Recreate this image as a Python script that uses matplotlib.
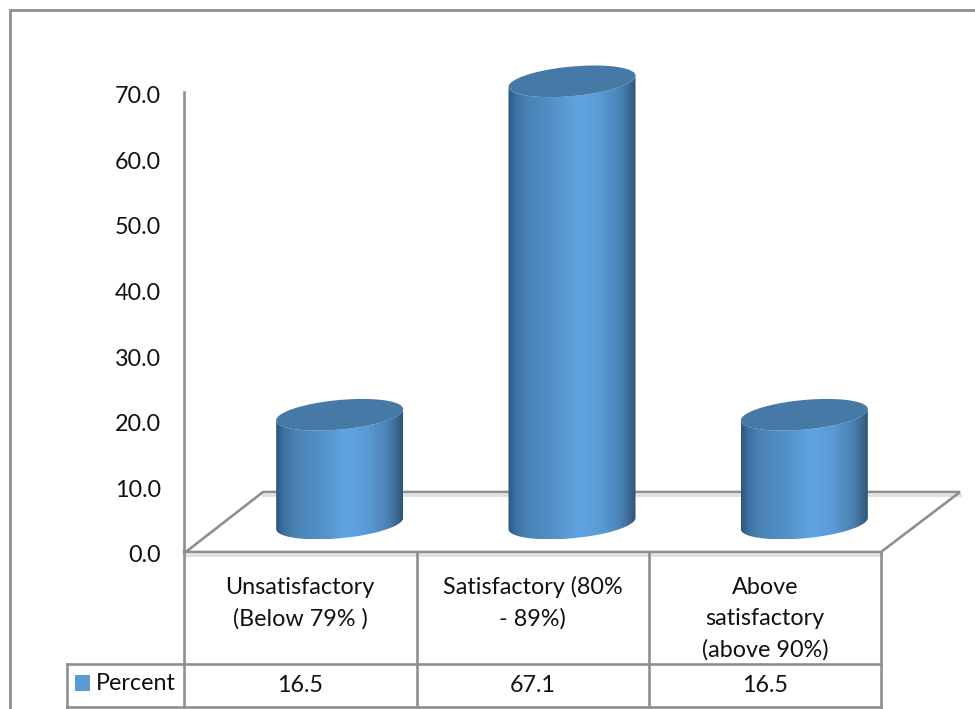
import numpy as np
import matplotlib
matplotlib.use("Agg")
import matplotlib.pyplot as plt
from matplotlib.colors import LinearSegmentedColormap
from matplotlib.lines import Line2D
from matplotlib.patches import PathPatch, Polygon, Rectangle
from matplotlib.path import Path
from matplotlib.transforms import Affine2D, ScaledTranslation

# Chart data
categories = ["Unsatisfactory\n(Below 79% )", "Satisfactory (80%\n- 89%)", "Above\nsatisfactory\n(above 90%)"]
percent = [16.5, 67.1, 16.5]
series_name = "Percent"
y_ticks = [0, 10, 20, 30, 40, 50, 60, 70]

W, H = 975, 709
GRAY = "#8f8f8f"
SHADE = "#dedede"
TEXT = "#111111"
plt.rcParams["font.family"] = ["Lato", "DejaVu Sans"]
FONT = 16.8

fig = plt.figure(figsize=(W / 100, H / 100), dpi=100, facecolor="white")

# Plot box runs from the 0.0 tick to the 70.0 tick
left, right, top, bottom = 184, 881, 92, 551
ax = fig.add_axes([left / W, (H - bottom) / H, (right - left) / W, (bottom - top) / H])
ax.set_zorder(5)
ax.patch.set_alpha(0)
ax.set_xlim(0, len(categories))
ax.set_ylim(0, 70)
px_x = len(categories) / (right - left)
px_y = 70 / (bottom - top)

for name in ("top", "right", "bottom"):
    ax.spines[name].set_visible(False)
ax.spines["left"].set_color(GRAY)
ax.spines["left"].set_linewidth(1.9)
ax.set_xticks([])
ax.set_yticks(y_ticks)
ax.set_yticklabels([f"{t:.1f}" for t in y_ticks], fontsize=FONT, color=TEXT)
ax.tick_params(axis="y", length=0, pad=16.5)
# Nudge the labels down so the digits sit level with their tick positions
nudge = ScaledTranslation(0, -2 / 72, fig.dpi_scale_trans)
for label in ax.get_yticklabels():
    label.set_transform(label.get_transform() + nudge)

# Everything around the plot is placed in pixels from the top-left corner
page = Affine2D().scale(1, -1).translate(0, H)


def rule(xs, ys, color=GRAY, lw=1.9, z=1):
    fig.add_artist(Line2D(xs, ys, transform=page, color=color, lw=lw, zorder=z,
                          solid_capstyle="projecting", solid_joinstyle="miter"))


# Outer chart frame
rule([10, 10, W], [H, 10, 10], lw=2.0)

# Floor of the 3D plot
rule([263, 960], [495, 495], color=SHADE, lw=2.0)
rule([184, 881], [554.5, 554.5], color=SHADE, lw=2.0)
rule([187, 263, 960, 881, 184], [551, 492, 492, 552, 552])

# Data table grid
for x in (184, 416.5, 648.5, 881):
    rule([x, x], [552, 707])
rule([67, 881], [664, 664])
rule([67, 881], [707, 707])
rule([67, 67], [664, 707])

# Category and value cells
centers = [300, 532.5, 765]
for x, label, value in zip(centers, categories, percent):
    for k, line in enumerate(label.split("\n")):
        fig.text(x, 587 + 31.5 * k, line, transform=page, ha="center", va="center",
                 fontsize=FONT, color=TEXT)
    fig.text(x, 685, f"{value:.1f}", transform=page, ha="center", va="center",
             fontsize=FONT, color=TEXT)

# Legend cell
fig.add_artist(Rectangle((75, 675), 15, 16, transform=page, facecolor="#5b9bd5", edgecolor="none"))
fig.text(96, 684, series_name, transform=page, ha="left", va="center", fontsize=FONT, color=TEXT)

# Cylinders stand on the floor, shifted back from the front edge
shade = LinearSegmentedColormap.from_list("cyl", [
    (0.00, "#2c567e"), (0.05, "#3a6e9e"), (0.14, "#4a82b4"), (0.35, "#5390c8"),
    (0.56, "#60a5e3"), (0.72, "#5a9bd6"), (0.88, "#4b82b4"), (0.96, "#3a678f"),
    (1.00, "#2e5473"),
])
radius = 63.5 * px_x
shift = 39.5 * px_x
base = 27.5 * px_y
minor = 14.8 * px_y
tilt = 5.6 * px_y
rise = 1.005

t = np.linspace(0, 2 * np.pi, 200)
for i, value in enumerate(percent):
    cx = i + 0.5 + shift
    y_top = base + value * rise

    # Body outline: lower arc at the base, then back along the upper rim
    low = np.linspace(np.pi, 2 * np.pi, 80)
    xs = np.r_[cx + radius * np.cos(low), cx + radius * np.cos(low[::-1])]
    ys = np.r_[base + tilt * np.cos(low) + minor * np.sin(low),
               y_top + tilt * np.cos(low[::-1]) + minor * np.sin(low[::-1])]
    body = PathPatch(Path(np.c_[xs, ys]), transform=ax.transData, facecolor="none",
                     edgecolor="none", zorder=3, clip_on=False)
    ax.add_patch(body)
    im = ax.imshow(np.linspace(0, 1, 256)[None, :], cmap=shade, aspect="auto", zorder=3,
                   extent=(cx - radius, cx + radius, ys.min(), ys.max()),
                   interpolation="bilinear")
    im.set_clip_box(fig.bbox)
    im.set_clip_path(body)

    # Flat top cap
    cap = np.c_[cx + radius * np.cos(t), y_top + tilt * np.cos(t) + minor * np.sin(t)]
    ax.add_patch(Polygon(cap, closed=True, facecolor="#4679a6", edgecolor="none",
                         zorder=4, clip_on=False))

ax.set_xlim(0, len(categories))
ax.set_ylim(0, 70)
fig.savefig("out.png", dpi=100, facecolor="white")
